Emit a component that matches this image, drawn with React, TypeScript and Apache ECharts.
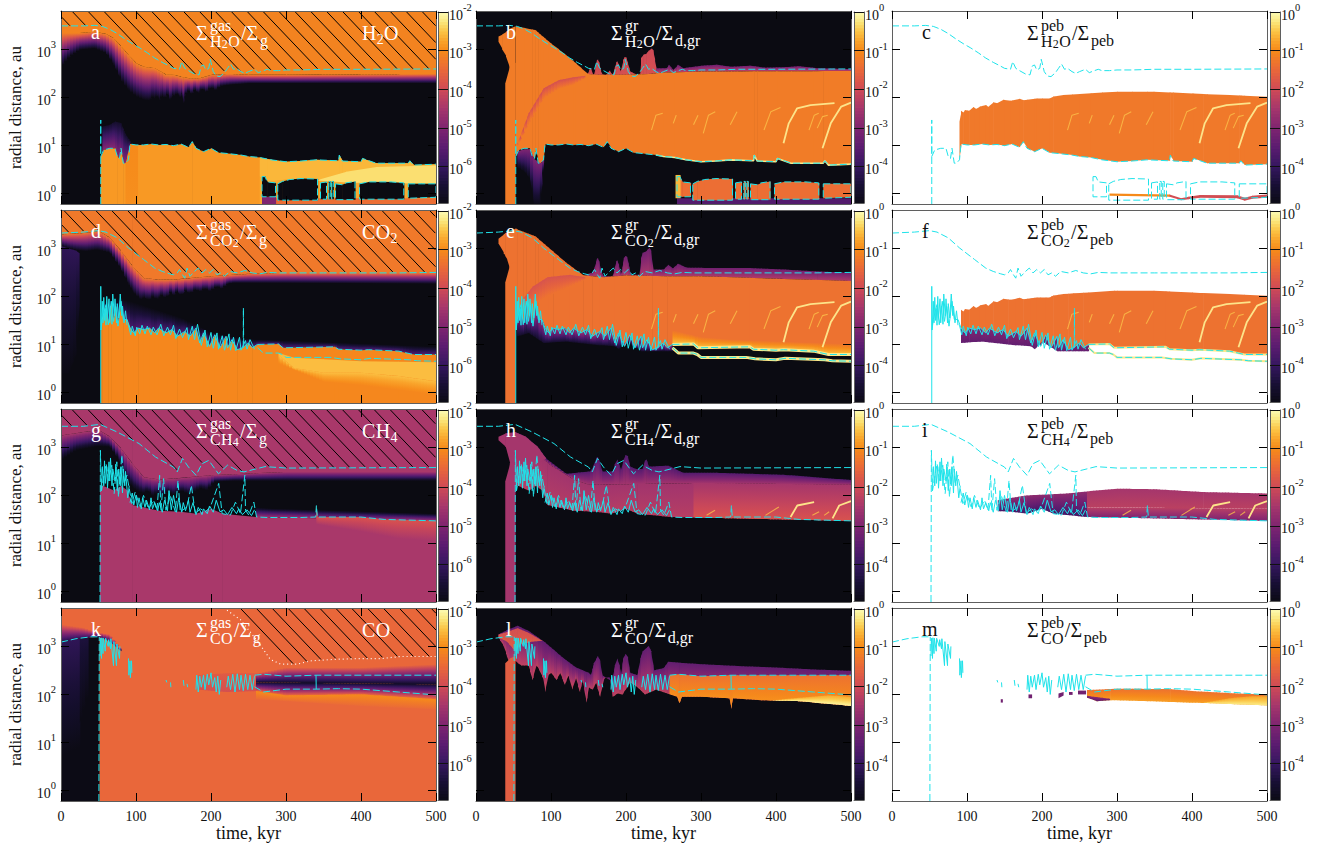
import React, { useEffect, useRef } from "react";
import * as echarts from "echarts";

type Curve = number[][];

// radial distance is typed as log10(au); the y axes are log axes in au
const BOT = -0.22;
const TOP = 3.8;
const ceiling: Curve = [[0, TOP], [500, TOP]];
const floor: Curve = [[0, BOT], [500, BOT]];

const timeTicks = [0, 100, 200, 300, 400, 500];
const radiusTicks = [1, 10, 100, 1000];

const paletteStops: [number, string][] = [
  [0, "#0b0b12"], [0.1, "#170f33"], [0.2, "#35175f"], [0.3, "#5b1c70"], [0.4, "#7f2570"], [0.5, "#a5366c"],
  [0.6, "#cf4a56"], [0.7, "#e9673a"], [0.8, "#f68a1a"], [0.85, "#f9a32a"], [0.9, "#fbc445"], [0.95, "#fbe67c"], [1, "#fcfcb4"],
];

// ---------- H2O ----------
const h2oOuter: Curve = [[0,3.49],[30,3.49],[45,3.5],[55,3.48],[65,3.42],[75,3.33],[85,3.22],[95,3.12],[105,3.03],[115,2.93],[125,2.82],[135,2.73],[145,2.65],[150,2.606],[158,2.586],[161,2.745],[165,2.606],[170,2.558],[178,2.488],[184,2.47],[187,2.655],[190,2.676],[193,2.572],[197,2.606],[199,2.794],[203,2.537],[207,2.447],[212,2.433],[218,2.516],[222,2.606],[226,2.697],[230,2.586],[234,2.606],[240,2.537],[245,2.5],[250,2.537],[258,2.586],[263,2.516],[270,2.558],[275,2.586],[280,2.558],[290,2.558],[300,2.572],[320,2.572],[350,2.586],[400,2.586],[500,2.593]];
const h2oInner: Curve = [[53,0.77],[57,0.905],[65,0.94],[72,0.94],[75,0.77],[78,0.73],[80,0.94],[83,0.63],[86,0.63],[90,0.7],[92,1.03],[100,1.01],[110,1.01],[120,1.03],[130,1.01],[140,1.02],[150,0.995],[160,1.03],[170,0.96],[175,1.08],[180,0.94],[190,0.87],[200,0.94],[210,0.85],[220,0.835],[240,0.8],[250,0.77],[265,0.75],[280,0.7],[300,0.66],[320,0.675],[340,0.7],[370,0.68],[371,0.8],[375,0.675],[400,0.66],[402,0.73],[420,0.63],[450,0.63],[463,0.63],[465,0.68],[470,0.59],[500,0.61]];
const h2oSpike: Curve = [[53,BOT],[53,1.53]];
const h2oFrontTop: Curve = [[0,3.34],[12,3.34],[25,3.34],[45,3.37],[60,3.32],[70,3.23],[80,3.06],[90,2.88],[100,2.71],[110,2.64],[125,2.61],[140,2.47],[150,2.47],[160,2.43],[170,2.4],[185,2.4],[200,2.47],[225,2.49],[250,2.47],[300,2.47],[500,2.49]];
const h2oFrontBot: Curve = [[0,2.64],[12,2.85],[25,2.99],[45,3.02],[60,2.92],[70,2.68],[80,2.36],[90,2.15],[100,2.02],[110,1.95],[118,1.93],[122,2.02],[125,1.96],[128,2.05],[131,1.92],[135,2.05],[138,1.97],[142,2.08],[146,1.9],[148,2.05],[152,2.02],[156,2.1],[158,1.95],[161,2.1],[163,1.82],[165,2.05],[170,2.15],[174,2.05],[178,2.17],[183,2.08],[188,2.19],[193,2.1],[200,2.21],[206,2.14],[212,2.23],[225,2.26],[250,2.29],[300,2.29],[500,2.29]];
const h2oFringe: Curve = [[55,1.39],[65,1.43],[72,1.5],[80,1.46],[85,1.25],[92,1.08]];
const h2oStripe: Curve = [[86,0.63],[92,1.03],[102,1.0]];
const h2oGapCeil: Curve = [[265,0.35],[275,0.24],[300,0.29],[340,0.3],[390,0.22],[457,0.22],[463,0.2],[500,0.2]];
const h2oGlowTop: Curve = [[340,0.27],[380,0.45],[420,0.55],[500,0.58]];
const h2oGlowBot: Curve = [[340,0.27],[380,0.23],[500,0.2]];
const h2oGapTops: Curve[] = [
  [[268,0.35],[272,0.35],[275,0.24],[286,0.22]],
  [[289,0.2],[295,0.25],[305,0.29],[320,0.31],[342,0.3]],
  [[346,0.22],[354,0.24]],
  [[357,0.25],[359,0.25]],
  [[361,0.25],[363,0.25]],
  [[366,0.2],[375,0.18],[380,0.22],[392,0.25]],
  [[398,0.2],[410,0.24],[440,0.24],[457,0.22]],
  [[463,0.2],[480,0.2],[500,0.2]],
];
const h2oGapBots: Curve[] = [
  [[268,-0.07],[286,-0.07]],
  [[289,-0.14],[342,-0.14]],
  [[346,-0.12],[354,-0.12]],
  [[357,-0.12],[359,-0.12]],
  [[361,-0.12],[363,-0.12]],
  [[366,-0.13],[392,-0.13]],
  [[398,-0.12],[457,-0.12]],
  [[463,-0.1],[500,-0.08]],
];
const h2oDustPeaks: Curve = [[52,3.48],[60,3.46],[79,3.4],[97,3.16],[120,2.88],[133,2.71],[149,2.49],[151,2.58],[153,2.61],[155,2.5],[157,2.45],[159,2.62],[161,2.77],[162,2.79],[164,2.72],[166,2.56],[168,2.48],[173,2.47],[176,2.52],[178,2.56],[180,2.5],[182,2.47],[185,2.62],[187,2.74],[188,2.75],[190,2.68],[192,2.54],[194,2.6],[196,2.78],[198,2.84],[200,2.83],[202,2.72],[205,2.54],[214,2.47],[219,2.5],[220,2.82],[223,2.89],[227,2.91],[230,2.97],[234,3.02],[236,2.98],[238,2.8],[240,2.61],[254,2.61],[257,2.68],[263,2.57],[269,2.68],[276,2.61],[300,2.66],[321,2.68],[340,2.64],[366,2.66],[385,2.62],[410,2.63],[430,2.65],[455,2.61],[500,2.59]];
const h2oDustMain: Curve = [[52,3.48],[60,3.46],[79,3.4],[97,3.16],[120,2.88],[133,2.71],[149,2.49],[160,2.47],[200,2.47],[230,2.49],[250,2.52],[300,2.54],[500,2.55]];
const h2oBlobTop: Curve = [[30,3.27],[35,3.31],[40,3.37],[45,3.43],[52,3.48]];
const h2oBlobBot: Curve = [[30,3.16],[35,3.0],[40,2.85],[45,2.6],[52,0.77]];
const flameTop: Curve = [[39,2.29],[45,2.67],[52,2.72]];
const h2oStreakTop: Curve = [[55,1.04],[70,1.67],[90,2.19],[110,2.36],[130,2.42],[145,2.45]];
const h2oStreakBot: Curve = [[55,0.98],[70,1.45],[90,1.98],[110,2.18],[130,2.27],[145,2.4]];
const h2oDripTop: Curve = [[55,0.88],[65,0.92],[72,0.92],[77,0.72],[85,0.63],[88,0.66],[90,0.7]];
const h2oDripBot: Curve = [[55,0.55],[65,0.45],[72,0.3],[77,-0.22],[85,-0.22],[88,0.2],[90,0.65]];
const h2oIslandTop: Curve = [[266,0.385],[272,0.385]];
const h2oIslandBot: Curve = [[266,-0.1],[272,-0.1]];
const pebTop: Curve = [[90,1.495],[92,1.72],[95,1.68],[97,1.74],[103,1.72],[108,1.8],[112,1.76],[117,1.81],[125,1.84],[128,1.8],[135,1.9],[140,1.88],[148,1.95],[158,1.93],[170,1.97],[175,1.94],[193,1.98],[210,1.98],[215,2.02],[228,2.05],[300,2.12],[349,2.12],[415,2.07],[500,2.016]];
const pebStripOrangeTop: Curve = [[290,0.0],[370,-0.02]];
const pebStripOrangeBot: Curve = [[290,-0.05],[370,-0.07]];
const pebStripRedTop: Curve = [[370,-0.02],[385,-0.1],[395,-0.07],[410,-0.03],[460,-0.04],[470,-0.09],[480,-0.05],[500,-0.02]];
const pebStripRedBot: Curve = [[370,-0.07],[385,-0.14],[395,-0.12],[410,-0.09],[460,-0.1],[470,-0.15],[480,-0.11],[500,-0.09]];

const arcsBright: Curve[] = [
  [[410,1.044],[417,1.46],[428,1.77],[446,1.84],[478,1.88]],
  [[462,0.94],[473,1.46],[487,1.81],[500,1.89]],
];
const arcsFaint: Curve[] = [
  [[303,1.25],[310,1.63],[319,1.7]],
  [[384,1.32],[393,1.7],[406,1.79]],
  [[234,1.32],[240,1.63],[249,1.67]],
  [[444,1.32],[451,1.63],[457,1.67]],
  [[455,1.36],[462,1.6],[469,1.63]],
  [[339,1.43],[348,1.7]],
  [[263,1.46],[267,1.63]],
  [[290,1.43],[296,1.63]],
];

// ---------- CO2 ----------
const co2Outer: Curve = [[0,3.32],[30,3.34],[50,3.37],[60,3.34],[75,3.22],[90,3.01],[110,2.77],[125,2.59],[135,2.52],[145,2.47],[150,2.45],[155,2.49],[158,2.56],[162,2.45],[165,2.38],[168,2.59],[172,2.42],[178,2.52],[183,2.59],[188,2.49],[193,2.56],[198,2.49],[203,2.56],[208,2.45],[213,2.49],[218,2.42],[225,2.52],[235,2.49],[245,2.54],[255,2.49],[265,2.47],[275,2.5],[290,2.49],[350,2.49],[450,2.49],[500,2.5]];
const co2Inner: Curve = [[53.4,1.3],[55,1.52],[60,1.83],[63,1.41],[67,1.9],[70,1.48],[73,1.79],[76,1.38],[80,1.9],[83,1.52],[88,1.52],[92,1.34],[97,1.24],[103,1.34],[110,1.31],[118,1.34],[125,1.24],[130,1.34],[140,1.24],[148,1.31],[155,1.17],[165,1.27],[172,1.17],[180,1.34],[185,1.03],[190,1.24],[198,0.96],[205,1.2],[212,0.93],[220,1.17],[222,0.93],[228,1.1],[235,0.89],[242,0.93],[250,1.03],[255,0.93],[262,1.0]];
const co2Upper: Curve = [[262,1.0],[290,1.01],[296,0.93],[365,0.95],[370,0.9],[400,0.88],[410,0.89],[450,0.86],[470,0.79],[500,0.79]];
const co2Lower: Curve = [[262,0.93],[270,0.82],[290,0.82],[295,0.79],[300,0.73],[360,0.73],[372,0.7],[400,0.68],[412,0.71],[465,0.68],[475,0.66],[500,0.65]];
const co2SpikeA: Curve = [[53,BOT],[53,2.21]];
const co2SpikeB: Curve = [[243,0.93],[243.2,1.76],[243.6,0.93]];
const co2ScatterA: Curve = [[54,1.4],[55,1.9],[56,1.45],[57,1.98],[58,1.5],[59,1.75],[60,1.4],[61,2.0],[62,1.55],[64,1.95],[65,1.45],[66,1.8],[68,1.42],[69,2.05],[71,1.6],[72,1.95],[74,1.45],[75,1.85],[77,1.55],[79,2.05],[81,1.6],[82,1.8],[84,1.45],[86,1.7],[88,1.4]];
const co2ScatterB: Curve = [[90,1.4],[93,1.2],[95,1.38],[99,1.18],[101,1.36],[105,1.22],[108,1.4],[112,1.22],[115,1.38],[120,1.2],[123,1.36],[128,1.2],[133,1.42],[137,1.18],[142,1.36],[146,1.2],[150,1.4],[153,1.12],[158,1.32],[162,1.14],[168,1.35],[170,1.1],[175,1.38],[178,1.1],[182,1.42],[187,0.98],[192,1.3],[195,0.95],[200,1.25],[203,0.92],[208,1.24],[210,0.9],[215,1.18],[218,0.88],[224,1.22],[226,0.88],[230,1.15],[233,0.87],[238,1.15],[240,0.88],[246,1.08],[248,0.9],[252,1.1],[258,0.9]];
const co2FrontTop: Curve = [[0,3.29],[30,3.32],[50,3.36],[65,3.22],[80,2.94],[95,2.63],[110,2.38],[130,2.35],[150,2.35],[200,2.42],[250,2.47],[300,2.49],[500,2.49]];
const co2Dome: Curve = [[0,3.05],[10,3.0],[20,2.96],[34,2.94],[48,2.97],[65,2.91],[79,2.59],[90,2.25],[97,2.07],[106,1.93],[112,1.98],[116,1.9],[122,2.0],[128,1.93],[134,2.03],[140,1.95],[146,2.1],[150,2.0],[155,2.12],[160,1.98],[165,2.13],[172,2.05],[178,2.14],[186,2.1],[192,2.17],[198,2.1],[208,2.21],[214,2.15],[222,2.26],[230,2.28],[500,2.26]];
const co2LeftTop: Curve = [[0,3.05],[10,3.0],[20,2.95],[24,2.9]];
const co2LeftBot: Curve = [[0,0.4],[10,0.4],[20,0.8],[24,1.8]];
const co2FringeTop: Curve = [[55,1.9],[80,1.95],[100,1.85],[130,1.7],[160,1.55],[180,1.4],[200,1.25],[230,1.15],[260,1.1],[300,1.08],[500,0.95]];
const co2GoldTop: Curve = [[290,0.82],[310,0.72],[400,0.65],[500,0.63]];
const co2GoldBot: Curve = [[290,0.78],[310,0.51],[350,0.41],[400,0.41],[450,0.34],[500,0.23]];
const co2GoldFade: Curve = [[290,0.6],[350,0.22],[400,0.15],[450,0.05],[500,-0.05]];
const co2DustPeaks: Curve = [[52,3.41],[79,3.25],[97,3.01],[120,2.7],[143,2.44],[155,2.5],[158,2.6],[161,2.78],[162,2.8],[164,2.72],[167,2.5],[170,2.42],[182,2.42],[185,2.6],[187,2.74],[188,2.75],[190,2.66],[193,2.45],[195,2.6],[197,2.8],[199,2.84],[201,2.82],[203,2.68],[206,2.45],[218,2.45],[220,2.8],[222,2.91],[226,2.93],[229,2.98],[231,3.01],[233,2.95],[236,2.56],[250,2.56],[256,2.66],[262,2.58],[269,2.68],[280,2.6],[321,2.59],[366,2.59],[410,2.56],[455,2.52],[500,2.49]];
const co2DustMain: Curve = [[52,3.41],[79,3.25],[97,3.01],[120,2.7],[143,2.44],[170,2.4],[200,2.44],[250,2.42],[300,2.42],[500,2.32]];
const co2BlobTop: Curve = [[30,3.2],[39,3.32],[52,3.41],[54,3.41]];
const co2BlobBot: Curve = [[30,3.1],[37,2.9],[42,2.75],[46,2.5],[52,1.3],[54,1.3]];
const co2DustGoldTop: Curve = [[225,1.1],[240,1.4],[260,1.3],[300,1.15],[340,1.1],[500,1.0]];
const co2DripBot: Curve = [[55,1.17],[70,1.24],[90,1.03],[120,1.06],[160,0.99],[185,0.96],[190,0.9],[200,1.06],[220,0.86],[240,0.86],[262,0.86]];
const co2ShadeTop: Curve = [[60,1.9],[75,2.2],[95,2.4],[125,2.45],[145,2.4]];
const co2ShadeBot: Curve = [[60,1.7],[75,1.8],[95,2.0],[125,2.2],[145,2.35]];

// ---------- CH4 ----------
const ch4Outer: Curve = [[0,3.44],[30,3.44],[52,3.48],[75,3.32],[104,3.08],[126,2.8],[150,2.59],[155,2.49],[162,2.77],[170,2.59],[180,2.42],[188,2.66],[197,2.73],[210,2.45],[222,2.63],[235,2.52],[244,2.49],[272,2.6],[300,2.57],[500,2.58]];
const ch4Inner: Curve = [[56.6,2.35],[60.2,2.66],[63.3,2.31],[67.7,2.63],[70.9,2.04],[74.4,2.7],[76.6,1.97],[81.1,2.84],[84.2,2.25],[87.8,2.42],[94.5,1.83],[98.9,2.07],[105.6,1.76],[110,2.0],[116.8,1.72],[123.4,1.9],[127.9,1.69],[131.5,2.42],[133.2,1.69],[136.8,2.35],[139.9,1.69],[145.7,2.0],[152.4,1.66],[156,2.31],[159,1.66],[168,1.76],[173.8,2.21],[179.1,1.62],[185.8,1.72],[192.5,1.66],[199.2,1.76],[210.3,2.25],[214.8,1.62],[225.9,1.59],[232.6,1.86],[239.3,1.62],[245.1,2.42],[246,1.69],[250.4,1.59],[257.1,1.86],[260.7,1.55],[275,1.54],[319.5,1.54],[339.6,1.55],[340.5,1.79],[341.8,1.55],[364,1.55],[399.7,1.55],[430.9,1.5],[500,1.47]];
const ch4Spike: Curve = [[52,BOT],[52.5,2.94],[54,2.1]];
const ch4ScatterA: Curve = [[54,2.1],[55,2.6],[57,2.2],[58,2.72],[59,2.25],[61,2.6],[62,2.15],[64,2.7],[65,2.3],[66,2.78],[68,2.2],[69,2.55],[72,2.3],[73,2.65],[75,2.1],[77,2.55],[79,2.2],[80,2.6],[82,2.05],[83,2.55],[85,2.2],[86,2.5],[89,1.95],[91,2.2]];
const ch4ScatterB: Curve = [[92,1.85],[95,2.05],[97,1.8],[100,2.0],[102,1.75],[104,1.95],[107,1.72],[109,1.95],[112,1.75],[114,1.9],[118,1.7],[120,1.95],[122,1.72],[125,1.85],[129,1.68],[131,1.85],[135,1.65],[138,1.9],[142,1.68],[144,2.1],[147,1.7],[150,2.0],[154,1.65],[157,1.95],[161,1.65],[163,1.85],[166,1.68],[170,1.9],[172,1.65],[176,1.85],[180,1.6],[183,1.75],[188,1.6],[190,1.72],[195,1.62],[198,1.78],[203,1.65],[207,1.9],[212,1.66],[217,1.7],[222,1.6],[228,1.75],[234,1.62],[237,1.72],[242,1.6],[248,1.7],[254,1.58],[258,1.7]];
const ch4Body: Curve = [[52,2.2],[56,2.2],[70,2.1],[80,2.2],[88,2.1],[95,1.8],[110,1.75],[130,1.68],[160,1.66],[180,1.62],[200,1.72],[215,1.62],[260,1.55],[500,1.47]];
const ch4FrontTop: Curve = [[0,3.25],[30,3.32],[50,3.36],[65,3.22],[80,2.97],[95,2.66],[110,2.38],[130,2.33],[150,2.35],[200,2.42],[300,2.49],[500,2.49]];
const ch4Dome: Curve = [[0,2.73],[20,2.94],[48,3.02],[65,3.01],[77,2.73],[88,2.31],[97,2.14],[103,2.08],[110,2.04],[116,2.1],[122,1.98],[128,2.05],[135,1.95],[142,2.08],[150,2.0],[160,2.1],[170,2.02],[177,2.07],[186,2.15],[195,2.1],[204,2.28],[230,2.3],[500,2.3]];
const ch4FringeTop: Curve = [[260,1.75],[280,1.73],[500,1.62]];
const ch4GlowBot: Curve = [[340,1.4],[400,1.25],[450,1.1],[500,1.05]];
const ch4DustTop: Curve = [[52,3.32],[66,3.22],[82,3.01],[93,2.77],[120,2.45],[152,2.5],[156,2.6],[160,2.78],[162,2.8],[165,2.68],[168,2.5],[182,2.5],[185,2.65],[188,2.75],[191,2.62],[193,2.52],[196,2.72],[199,2.84],[202,2.82],[205,2.6],[213,2.55],[222,2.55],[225,2.72],[227,2.75],[230,2.6],[256,2.62],[276,2.47],[321,2.47],[410,2.43],[500,2.32]];
const ch4DustMid: Curve = [[52,3.2],[66,3.05],[82,2.85],[100,2.62],[130,2.33],[150,2.22],[300,2.26],[500,2.22]];
const ch4BlobTop: Curve = [[30,3.22],[39,3.29],[52,3.32]];
const ch4BlobBot: Curve = [[30,3.15],[40,3.0],[46,2.6],[52,2.2]];
const ch4LensBot: Curve = [[52,2.2],[70,2.5],[85,2.7],[93,2.77]];
const ch4PebTop: Curve = [[141,1.9],[179,2.0],[233,2.04],[264,2.09],[300,2.14],[349,2.13],[415,2.07],[500,2.04]];
const ch4PebSplit: Curve = [[141,1.75],[260,1.75],[300,1.75],[500,1.72]];
const ch4ArcsBright: Curve[] = [
  [[419.4,1.55],[428.4,1.79],[450.8,1.86]],
  [[475.4,1.52],[484.3,1.79],[500,1.88]],
];
const ch4ArcsFaint: Curve[] = [
  [[385.9,1.585],[403.8,1.76]],
  [[307.5,1.585],[318.7,1.69]],
  [[448.5,1.585],[457.5,1.66]],
  [[464.2,1.585],[470.9,1.66]],
];

// ---------- CO ----------
const coOuter: Curve = [[0,3.09],[20,3.16],[40,3.2],[50,3.2]];
const coDrop: Curve = [[50.5,BOT],[51,3.2]];
const coScatterA: Curve = [[52,2.8],[52.5,3.17],[54,2.75],[54.5,3.18],[56,2.85],[56.5,3.17],[59,2.9],[59.5,3.17],[63,3.0],[63.5,3.14],[66,2.95],[66.5,3.16],[70,2.6],[70.5,3.1],[74,2.6],[74.5,3.05],[78,2.75],[78.5,3.0]];
const coScatterB: Curve = [[90,2.75],[90.5,2.4],[92,2.7],[92.5,2.35],[94,2.7],[94.5,2.45]];
const coScatterC: Curve = [[180,2.1],[181,2.4],[183,2.05],[185,2.38],[187,2.15],[190,2.4],[192,2.1],[195,2.42],[197,2.2],[200,2.45],[202,2.15],[205,2.35],[207,2.05],[209,2.38],[211,2.0],[213,2.3]];
const coScatterD: Curve = [[221,2.15],[223,2.38],[226,2.1],[229,2.42],[232,2.05],[235,2.43],[238,2.1],[240,2.4],[243,2.08],[246,2.42],[249,2.1],[252,2.4],[255,2.1],[258,2.38]];
const coBits: Curve[] = [[[140,2.3],[141,2.25]],[[146,2.25],[146.5,2.15]],[[163,2.3],[164,2.18]],[[168,2.22],[169,2.15]]];
const coTop: Curve = [[258,2.4],[270,2.42],[300,2.38],[340,2.4],[400,2.4],[500,2.4]];
const coBot: Curve = [[258,2.16],[270,2.05],[300,2.11],[340,2.11],[370,2.12],[400,2.11],[450,2.05],[500,1.99]];
const coWall: Curve = [[340,2.4],[340.3,2.11]];
const coHatch: Curve = [[0,3.8],[217,3.8],[239,3.56],[262,3.11],[279,2.73],[293,2.63],[315,2.63],[333,2.7],[364,2.73],[395,2.745],[426,2.745],[453,2.79],[500,2.79]];
const coLeftTop: Curve = [[0,3.46],[30,3.39],[50,3.29],[65,3.25],[80,2.95]];
const coLeftBot: Curve = [[0,3.11],[20,3.16],[50,3.2],[65,3.1],[80,2.9]];
const coFadeTop: Curve = [[260,2.44],[300,2.56],[400,2.56],[500,2.63]];
const coFadeMid: Curve = [[260,2.25],[500,2.21]];
const coFadeBot: Curve = [[260,2.07],[300,1.98],[400,2.0],[500,1.9]];
const coGoldBot: Curve = [[260,1.9],[400,1.76],[500,1.69]];
const coEarlyTop: Curve = [[180,2.4],[220,2.44],[260,2.44]];
const coEarlyBot: Curve = [[180,2.1],[220,2.05],[260,2.07]];
const coDustTop: Curve = [[30,3.25],[41,3.34],[55,3.43],[70,3.32],[92,3.08],[115,2.77],[133,2.56],[150,2.45],[153,2.4],[157,2.65],[162,2.8],[165,2.7],[168,2.4],[178,2.3],[182,2.35],[185,2.6],[188,2.75],[191,2.6],[193,2.4],[196,2.75],[199,2.84],[202,2.78],[205,2.45],[215,2.4],[219,2.75],[222,2.9],[226,2.95],[230,3.01],[233,2.9],[237,2.5],[250,2.55],[256,2.68],[270,2.66],[300,2.63],[350,2.59],[400,2.56],[450,2.52],[500,2.49]];
const coDustBot: Curve = [[30,3.18],[37,3.0],[40,2.85],[45,2.6],[52,2.7],[60,2.6],[70,2.6],[75,2.3],[80,2.6],[83,2.55],[90,2.3],[92,2.05],[96,2.4],[100,2.45],[107,2.3],[112,2.45],[118,2.2],[123,2.4],[128,2.1],[133,2.35],[138,2.05],[142,2.3],[147,1.83],[150,2.15],[155,2.1],[160,2.25],[165,1.95],[170,2.3],[172,2.35],[178,2.35],[182,1.95],[188,2.02],[195,2.0],[205,2.25],[215,2.15],[225,2.0],[240,2.1],[255,2.02],[268,1.95],[271,1.82],[274,1.95],[300,1.95],[338,1.92],[340,1.7],[342,1.92],[380,1.88],[430,1.86],[500,1.76]];
const coFlameTop: Curve = [[39,2.65],[45,2.75],[52,2.8]];
const coLensBot: Curve = [[30,3.18],[41,3.1],[52,2.9],[60,3.05],[75,3.1],[88,3.12]];
const coLensTop: Curve = [[30,3.25],[41,3.3],[55,3.38],[70,3.28],[88,3.12]];
const coGlowTop: Curve = [[390,1.87],[430,1.93],[470,1.98],[500,1.95]];
const coPebTop: Curve = [[260,2.09],[300,2.12],[371,2.11],[400,2.07],[460,2.02],[500,2.0]];
const coPebBot: Curve = [[260,1.93],[273,1.86],[291,1.88],[340,1.86],[393,1.83],[420,1.82],[500,1.77]];
const coPebGlowTop: Curve = [[415,1.83],[450,1.92],[480,1.96],[500,1.96]];
const coPebBits: Curve[][] = [
  [[[182,2.0],[186,2.0]],[[182,1.92],[186,1.92]]],
  [[[222,2.02],[228,2.05]],[[222,1.92],[228,1.98]]],
  [[[236,2.05],[240,2.05]],[[236,1.99],[240,1.99]]],
  [[[248,2.08],[258,2.08]],[[248,2.0],[258,2.0]]],
  [[[145,1.9],[147,1.9]],[[145,1.83],[147,1.83]]],
];

const segments = (tops: Curve[], bots: Curve[]) =>
  tops.map((top, i) => [...top, ...[...bots[i]].reverse(), top[0]]);

interface Band { top: Curve; bot: Curve; vTop: number; vBot: number; from: number; to: number }
const band = (top: Curve, bot: Curve, vTop: number, vBot = vTop, from = -1, to = 501): Band => ({ top, bot, vTop, vBot, from, to });

const interp = (c: Curve, t: number) => {
  if (t <= c[0][0]) return c[0][1];
  for (let i = 1; i < c.length; i++) {
    if (t <= c[i][0]) {
      const d = c[i][0] - c[i - 1][0];
      return d === 0 ? c[i][1] : c[i - 1][1] + ((c[i][1] - c[i - 1][1]) * (t - c[i - 1][0])) / d;
    }
  }
  return c[c.length - 1][1];
};

const paletteAt = (f: number) => {
  const x = Math.max(0, Math.min(1, f));
  let i = 1;
  while (i < paletteStops.length - 1 && paletteStops[i][0] < x) i++;
  const [f0, c0] = paletteStops[i - 1];
  const [f1, c1] = paletteStops[i];
  const k = (x - f0) / (f1 - f0);
  const ch = (c: string, p: number) => parseInt(c.slice(p, p + 2), 16);
  const mix = (p: number) => Math.round(ch(c0, p) + (ch(c1, p) - ch(c0, p)) * k);
  return `rgb(${mix(1)},${mix(3)},${mix(5)})`;
};

interface LineSpec { curve: Curve; color: string; width: number; dash?: any; opacity?: number }
const CY = "#1fe3ea";
const cyan = (curve: Curve): LineSpec => ({ curve, color: CY, width: 1, dash: [7, 3] });
const cyanSolid = (curve: Curve): LineSpec => ({ curve, color: CY, width: 1 });
const rim = (curve: Curve, w = 2.4): LineSpec => ({ curve, color: "#fbe98a", width: w });
const arcs = (bright: Curve[], faint: Curve[]): LineSpec[] => [
  ...faint.map((curve) => ({ curve, color: "#fbc04a", width: 1.1, opacity: 0.8 })),
  ...bright.map((curve) => ({ curve, color: "#fde48a", width: 1.8 })),
];
const clipCurve = (c: Curve, from: number) => c.filter((p) => p[0] >= from);

const h2oGapLines = segments(h2oGapTops, h2oGapBots).map(cyan);
const h2oLines = [cyan(h2oOuter), cyan([...h2oSpike, ...h2oInner]), ...h2oGapLines];
const co2Lines = [cyan(co2Outer), cyanSolid(co2ScatterA), cyanSolid(co2ScatterB), cyanSolid([...co2SpikeA, ...co2Inner]), cyan(co2Upper), cyan(co2Lower), cyan(co2SpikeB)];
const ch4Lines = [cyan(ch4Outer), cyanSolid(ch4ScatterA), cyanSolid(ch4ScatterB), cyan([...ch4Spike, ...ch4Inner])];
const coLines = [
  cyan(coOuter), cyan(coDrop), cyanSolid(coScatterA), cyanSolid(coScatterB), cyanSolid(coScatterC), cyanSolid(coScatterD),
  ...coBits.map(cyanSolid), cyan(coTop), cyan(coBot), cyanSolid(coWall),
];

const gapBands = (v: number) => h2oGapTops.map((t, i) => band(t, h2oGapBots[i], v));

interface Panel {
  id: string; row: number; col: number; white?: boolean; vmin: number; bands: Band[]; lines: LineSpec[];
  hatch?: { bound: Curve; offset: number }; extra?: LineSpec[];
}

const panels: Panel[] = [
  { id: "a", row: 0, col: 0, vmin: -7, hatch: { bound: h2oOuter, offset: 35.6 }, lines: h2oLines, bands: [
    band(ceiling, h2oFrontTop, -3.1),
    band(h2oFrontTop, h2oFrontBot, -3.1, -7),
    band(h2oFringe, h2oInner, -6.6, -4.9, 55, 92),
    band(h2oInner, floor, -2.85),
    band(h2oStripe, floor, -3.0, -2.95, 86, 102),
    band(h2oInner, h2oGapCeil, -2.6, -2.6, 265, 500),
    band(h2oGapCeil, floor, -2.7, -2.7, 265, 500),
    band(h2oGlowTop, h2oGlowBot, -2.3),
    band([[268, -0.1], [500, -0.1]], floor, -3.4, -3.4, 268, 500),
    band([[268, -0.07], [286, -0.07]], floor, -5, -5, 268, 286),
    ...gapBands(-7),
  ] },
  { id: "b", row: 0, col: 1, vmin: -5, lines: h2oLines, extra: [rim(clipCurve(h2oInner, 240), 1.6), ...arcs(arcsBright, arcsFaint)], bands: [
    band(h2oDustPeaks, h2oDustMain, -2.0, -1.9, 52, 240),
    band(h2oDustPeaks, h2oDustMain, -3.2, -2.2, 240, 500),
    band(h2oBlobTop, h2oBlobBot, -1.2),
    band(h2oDustMain, h2oInner, -1.2),
    band(flameTop, floor, -1.2),
    band(h2oStreakTop, h2oStreakBot, -1.9, -1.25),
    band(h2oDripTop, h2oDripBot, -3, -4.9),
    band([[268, -0.1], [500, -0.1]], floor, -3.6, -3.6, 268, 500),
    ...gapBands(-1.4),
    band(h2oIslandTop, h2oIslandBot, -0.6),
  ] },
  { id: "c", row: 0, col: 2, white: true, vmin: -5, lines: h2oLines, extra: arcs(arcsBright, arcsFaint), bands: [
    band(pebTop, h2oInner, -1.25),
    band(pebStripOrangeTop, pebStripOrangeBot, -1),
    band(pebStripRedTop, pebStripRedBot, -1.95),
  ] },
  { id: "d", row: 1, col: 0, vmin: -7, hatch: { bound: co2Outer, offset: 24.5 }, lines: co2Lines, bands: [
    band(ceiling, co2FrontTop, -3.25),
    band(co2FrontTop, co2Dome, -3.25, -7),
    band(co2LeftTop, co2LeftBot, -6.1, -6.95),
    band(co2FringeTop, co2Inner, -6.95, -5.6, 55, 262),
    band(co2FringeTop, co2Upper, -6.95, -5.6, 262, 500),
    band(co2Inner, floor, -3.05),
    band(co2Upper, floor, -3.05),
    band(co2GoldBot, co2GoldFade, -2.55, -3.05),
    band(co2GoldTop, co2GoldBot, -2.55),
  ] },
  { id: "e", row: 1, col: 1, vmin: -5, lines: co2Lines, extra: [rim(co2Upper, 3), rim(co2Lower, 3), ...arcs(arcsBright, arcsFaint)], bands: [
    band(co2DustPeaks, co2DustMain, -3.2, -2.4),
    band(co2BlobTop, co2BlobBot, -1.35),
    band(co2DustMain, co2Inner, -1.35),
    band(co2DustMain, co2Upper, -1.35, -1.35, 262, 500),
    band(flameTop, floor, -1.35),
    band(co2ShadeTop, co2ShadeBot, -1.85, -1.35),
    band(co2Inner, co2DripBot, -2.6, -4.6),
    band(co2DustGoldTop, co2Upper, -1.3, -0.5),
    band(co2Upper, co2Lower, -5),
  ] },
  { id: "f", row: 1, col: 2, white: true, vmin: -5, lines: co2Lines, extra: [rim(co2Upper, 2), rim(co2Lower, 2), ...arcs(arcsBright, arcsFaint)], bands: [
    band(pebTop, co2Inner, -1.35, -1.35, 92, 262),
    band(pebTop, co2Upper, -1.35, -1.35, 262, 500),
    band(co2Inner, co2DripBot, -3, -3.4, 92, 262),
  ] },
  { id: "g", row: 2, col: 0, vmin: -7, hatch: { bound: ch4Outer, offset: 35.2 }, lines: ch4Lines, bands: [
    band(ceiling, ch4FrontTop, -4.45),
    band(ch4FrontTop, ch4Dome, -4.45, -7),
    band(ch4FringeTop, ch4Body, -7, -4.6),
    band(ch4Body, floor, -4.45),
    band(ch4Inner, ch4GlowBot, -3.85, -4.45, 340, 500),
  ] },
  { id: "h", row: 2, col: 1, vmin: -5, lines: ch4Lines, extra: arcs(ch4ArcsBright, ch4ArcsFaint), bands: [
    band(ch4BlobTop, ch4BlobBot, -2.5),
    band(ch4DustTop, ch4DustMid, -3.6, -2.55),
    band(ch4DustMid, ch4Body, -2.55, -2.3),
    band(ch4DustTop, ch4LensBot, -2.5),
    band(flameTop, floor, -2.5),
    band(ch4DustMid, ch4Body, -2.5, -1.85, 290, 500),
  ] },
  { id: "i", row: 2, col: 2, white: true, vmin: -5, lines: ch4Lines, extra: arcs(ch4ArcsBright, ch4ArcsFaint), bands: [
    band(ch4PebTop, ch4Body, -2.8, -3.8, 141, 260),
    band(ch4PebTop, ch4PebSplit, -2.5, -2.25, 260, 500),
    band(ch4PebSplit, ch4Body, -2.25, -3.0, 260, 500),
  ] },
  { id: "k", row: 3, col: 0, vmin: -7, hatch: { bound: coHatch, offset: 48 }, lines: coLines, extra: [{ curve: coHatch.slice(1), color: "#ffffff", width: 1.2, dash: [1, 3] }], bands: [
    band(ceiling, floor, -3.5),
    band(coLeftTop, coLeftBot, -3.5, -6.1),
    band(coLeftBot, floor, -6.95, -6.95, 0, 50.5),
    band(coLeftBot, [[0, 0.7], [25, 0.9]], -6.1, -6.95, 0, 25),
    band(coLeftBot, [[25, 1.4], [36, 2.0]], -6.4, -6.95, 25, 36),
    band(coEarlyTop, coEarlyBot, -3.7, -3.9),
    band(coFadeTop, coFadeMid, -3.5, -6.7),
    band(coFadeMid, coFadeBot, -6.7, -3.5),
    band(coFadeBot, coGoldBot, -3.0, -3.45),
  ] },
  { id: "l", row: 3, col: 1, vmin: -5, lines: coLines, bands: [
    band(coDustTop, coDustBot, -3.4, -2.2),
    band(coLensTop, coLensBot, -1.9, -1.7),
    band(coFlameTop, floor, -1.65),
    band(coTop, coDustBot, -1.35, -0.95, 258, 500),
    band(coGlowTop, coDustBot, -0.7, -0.1, 390, 500),
  ] },
  { id: "m", row: 3, col: 2, white: true, vmin: -5, lines: coLines, bands: [
    band(coPebTop, coPebBot, -1.35, -0.8),
    band([[260, 1.97], [290, 1.91]], coPebBot, -2.8, -3.4, 260, 290),
    band(coPebGlowTop, coPebBot, -0.75, -0.2, 415, 500),
    ...coPebBits.map(([t, b]) => band(t, b, -3.2)),
  ] },
];

const speciesTitle: [string, number][][] = [
  [["H", 0], ["2", 1], ["O", 0]],
  [["C", 0], ["O", 0], ["2", 1]],
  [["C", 0], ["H", 0], ["4", 1]],
  [["C", 0], ["O", 0]],
];
const kindSup = ["gas", "gr", "peb"];
const kindDen = ["g", "d,gr", "peb"];

const colLeft = [61, 476, 892];
const rowTop = [11, 210, 409, 608];
const PW = 375;
const PH = 193;
const barLeft = [438, 854, 1270];
const BW = 10;
const SERIF = '"Liberation Serif"';

const charW: Record<string, number> = { H: 0.722, O: 0.722, C: 0.667, "2": 0.5, "4": 0.5 };

const buildBands = (bands: Band[]) => {
  const rows: number[][] = [];
  bands.forEach((b, idx) => {
    const t0 = Math.max(b.top[0][0], b.bot[0][0], b.from);
    const t1 = Math.min(b.top[b.top.length - 1][0], b.bot[b.bot.length - 1][0], b.to);
    const knots = [t0, t1, ...b.top.map((p) => p[0]), ...b.bot.map((p) => p[0])];
    if (b.vTop !== b.vBot) for (let t = Math.ceil(t0 / 4) * 4; t < t1; t += 4) knots.push(t);
    const ts = Array.from(new Set(knots)).filter((t) => t >= t0 && t <= t1).sort((x, y) => x - y);
    ts.forEach((t) => rows.push([t, 10 ** interp(b.top, t), 10 ** interp(b.bot, t), idx]));
  });
  return rows;
};

const expLabel = (v: number) => `{b|10}{s|${Math.round(v)}}`;
const rich = {
  b: { fontFamily: SERIF, fontSize: 14, color: "#111", verticalAlign: "bottom", lineHeight: 20 },
  s: { fontFamily: SERIF, fontSize: 10.5, color: "#111", verticalAlign: "top", lineHeight: 20 },
};

function pushLine(series: any[], l: LineSpec, xi: number, yi: number) {
  series.push({
    type: "line", xAxisIndex: xi, yAxisIndex: yi, data: l.curve.map((p) => [p[0], 10 ** p[1]]),
    symbol: "none", showSymbol: false, silent: true, animation: false, clip: true, connectNulls: false,
    lineStyle: { color: l.color, width: l.width, type: l.dash || "solid", opacity: l.opacity ?? 1 },
    emphasis: { disabled: true },
  });
}

function buildOption() {
  const grid: any[] = [];
  const xAxis: any[] = [];
  const yAxis: any[] = [];
  const series: any[] = [];
  const graphic: any[] = [];
  const frame = { show: true, onZero: false, lineStyle: { color: "#5f5f5f", width: 1 } };
  const tick = (len: number) => ({ show: true, inside: true, length: len, lineStyle: { color: "#000", width: 1 } });

  panels.forEach((p) => {
    const gi = grid.length;
    const left = colLeft[p.col];
    const top = rowTop[p.row];
    grid.push({ left, top, width: PW, height: PH, show: true, borderWidth: 0, backgroundColor: p.white ? "#ffffff" : "#0b0b12" });
    const bottomRow = p.row === 3;
    const xBase = {
      type: "value", gridIndex: gi, min: 0, max: 500, interval: 100, z: 10, splitLine: { show: false },
      axisLine: frame, axisTick: tick(8),
    };
    xAxis.push({
      ...xBase, position: "bottom",
      axisLabel: { show: bottomRow, fontFamily: SERIF, fontSize: 14, color: "#111", margin: 8, customValues: timeTicks, hideOverlap: false },
      ...(bottomRow ? { name: "time, kyr", nameLocation: "middle", nameGap: 23, nameTextStyle: { fontFamily: SERIF, fontSize: 18, color: "#111" } } : {}),
    });
    xAxis.push({ ...xBase, position: "top", axisLabel: { show: false } });
    const yBase = {
      type: "log", logBase: 10, gridIndex: gi, min: 10 ** BOT, max: 10 ** TOP, z: 10, splitLine: { show: false }, minorTick: { show: false },
      axisLine: frame, axisTick: { ...tick(8), customValues: radiusTicks },
    };
    yAxis.push({
      ...yBase, position: "left",
      axisLabel: { show: p.col === 0, customValues: radiusTicks, margin: 5, formatter: (v: number) => expLabel(Math.log10(v)), rich },
      ...(p.col === 0 ? { name: "radial distance, au", nameLocation: "middle", nameGap: 37, nameTextStyle: { fontFamily: SERIF, fontSize: 17, color: "#111" } } : {}),
    });
    yAxis.push({ ...yBase, position: "right", axisLabel: { show: false, customValues: radiusTicks } });
    const xi = xAxis.length - 2;
    const yi = yAxis.length - 2;
    const rows = buildBands(p.bands);
    series.push({
      type: "custom", name: `${p.id} field`, xAxisIndex: xi, yAxisIndex: yi, data: rows, clip: true, silent: true,
      encode: { x: 0, y: 1 }, animation: false,
      renderItem: (params: any, api: any) => {
        const i = params.dataIndex;
        const r = rows[i];
        const n = rows[i + 1];
        if (!n || n[3] !== r[3] || n[0] <= r[0]) return null;
        const b = p.bands[r[3]];
        const a0 = api.coord([r[0], r[1]]);
        const a1 = api.coord([r[0], r[2]]);
        const c0 = api.coord([n[0], n[1]]);
        const c1 = api.coord([n[0], n[2]]);
        const xr = c0[0] + 0.6;
        const range = 5;
        let fill: any;
        if (b.vTop === b.vBot) fill = paletteAt((b.vTop - p.vmin) / range);
        else {
          const y0 = (a0[1] + c0[1]) / 2;
          const y1 = Math.max((a1[1] + c1[1]) / 2, y0 + 0.5);
          const stops = [0, 0.2, 0.4, 0.6, 0.8, 1].map((o) => ({
            offset: o,
            color: paletteAt((b.vTop + (b.vBot - b.vTop) * o - p.vmin) / range),
          }));
          fill = new (echarts.graphic as any).LinearGradient(0, y0, 0, y1, stops, true);
        }
        return {
          type: "polygon",
          shape: { points: [[a0[0], a0[1]], [xr, c0[1]], [xr, c1[1]], [a1[0], a1[1]]] },
          style: { fill },
          silent: true,
        };
      },
    });
    (p.extra || []).filter((l) => l.color !== "#ffffff").forEach((l) => pushLine(series, l, xi, yi));
    if (p.hatch) {
      const { bound, offset } = p.hatch;
      const starts: number[][] = [];
      for (let s = offset - 21.2 * 14; s < 500; s += 21.2) starts.push([s, 1000]);
      series.push({
        type: "custom", name: `${p.id} hatch`, xAxisIndex: xi, yAxisIndex: yi, data: starts, clip: true, silent: true,
        encode: { x: 0, y: 1 }, animation: false,
        renderItem: (params: any, api: any) => {
          const cs = params.coordSys;
          const x0 = cs.x + (api.value(0) / 500) * cs.width;
          let first: number[] | null = null;
          let last: number[] | null = null;
          for (let s = 0; s < 400; s += 1) {
            const px = x0 + s;
            const py = cs.y + 1.05 * s;
            if (px > cs.x + cs.width || py > cs.y + cs.height) break;
            if (px < cs.x) continue;
            const t = ((px - cs.x) / cs.width) * 500;
            const by = api.coord([t, 10 ** interp(bound, t)])[1];
            if (py >= by) break;
            if (!first) first = [px, py];
            last = [px, py];
          }
          if (!first || !last) return null;
          return {
            type: "line",
            shape: { x1: first[0], y1: first[1], x2: last[0], y2: last[1] },
            style: { stroke: "#000", lineWidth: 1 },
            silent: true,
          };
        },
      });
    }
    p.lines.forEach((l) => pushLine(series, l, xi, yi));
    (p.extra || []).filter((l) => l.color === "#ffffff").forEach((l) => pushLine(series, l, xi, yi));

    // colour bar
    const bi = grid.length;
    grid.push({ left: barLeft[p.col], top: top + 1, width: BW, height: PH - 2, show: false });
    const vmax = p.vmin + 5;
    const vmin = p.vmin + 0.05;
    const bx = { type: "value", gridIndex: bi, min: 0, max: 1, z: 10, splitLine: { show: false }, axisLine: frame, axisTick: { show: false }, axisLabel: { show: false } };
    xAxis.push({ ...bx, position: "bottom" });
    xAxis.push({ ...bx, position: "top" });
    const decades = [0, 1, 2, 3, 4].map((k) => p.vmin + 1 + k);
    const by = { type: "value", gridIndex: bi, min: vmin, max: vmax, z: 10, splitLine: { show: false }, axisLine: frame };
    yAxis.push({ ...by, position: "left", axisTick: { show: false }, axisLabel: { show: false } });
    yAxis.push({
      ...by, position: "right",
      axisTick: { show: true, inside: true, length: BW, lineStyle: { color: "#111", width: 1 }, customValues: decades },
      axisLabel: { show: true, customValues: decades, margin: 1, formatter: (v: number) => expLabel(v), rich },
    });
    const cells: number[][] = [];
    for (let k = 0; k < 60; k++) cells.push([0, vmin + (k * (vmax - vmin)) / 60, vmin + ((k + 1) * (vmax - vmin)) / 60]);
    series.push({
      type: "custom", name: `${p.id} colour bar`, xAxisIndex: xAxis.length - 2, yAxisIndex: yAxis.length - 2,
      data: cells, silent: true, clip: true, encode: { x: 0, y: 1 }, animation: false,
      renderItem: (_: any, api: any) => {
        const a = api.coord([0, api.value(1)]);
        const c = api.coord([1, api.value(2)]);
        return {
          type: "rect",
          shape: { x: a[0], y: c[1] - 0.4, width: c[0] - a[0], height: a[1] - c[1] + 0.8 },
          style: { fill: paletteAt((api.value(1) + (vmax - vmin) / 120 - p.vmin) / 5) },
          silent: true,
        };
      },
    });

    // labels
    const ink = p.white ? "#111" : "#ffffff";
    const txt = (text: string, x: number, y: number, size: number) =>
      graphic.push({
        type: "text", x, y, z: 100, silent: true,
        style: { text, fill: ink, fontFamily: SERIF, fontSize: size, align: "left", verticalAlign: "middle" },
      });
    txt(p.id, left + 30, top + 21, 20);
    const sp = speciesTitle[p.row];
    const sx = left + 135;
    txt("Σ", sx, top + 22, 20);
    txt(kindSup[p.col], sx + 14, top + 14, 16);
    let cx = sx + 14;
    sp.forEach(([ch, sub]) => {
      const sz = sub ? 12 : 16;
      txt(ch, cx, top + 30 + (sub ? 3 : 0), sz);
      cx += charW[ch] * sz + 0.3;
    });
    txt("/Σ", cx + 1, top + 22, 20);
    txt(kindDen[p.col], cx + 20, top + 29, 16);
    if (p.col === 0) {
      let hx = left + 301;
      sp.forEach(([ch, sub]) => {
        const sz = sub ? 14 : 20;
        txt(ch, hx, top + 22 + (sub ? 6 : 0), sz);
        hx += charW[ch] * sz + 0.3;
      });
    }
  });

  return { animation: false, backgroundColor: "#ffffff", grid, xAxis, yAxis, series, graphic };
}

export default function App() {
  const ref = useRef<HTMLDivElement>(null);
  useEffect(() => {
    document.body.style.margin = "0";
    const chart = echarts.init(ref.current!, null, { renderer: "svg", width: 1320, height: 843 });
    chart.setOption(buildOption() as any);
    return () => chart.dispose();
  }, []);
  return <div ref={ref} style={{ width: 1320, height: 843, position: "absolute", left: 0, top: 0 }} />;
}
